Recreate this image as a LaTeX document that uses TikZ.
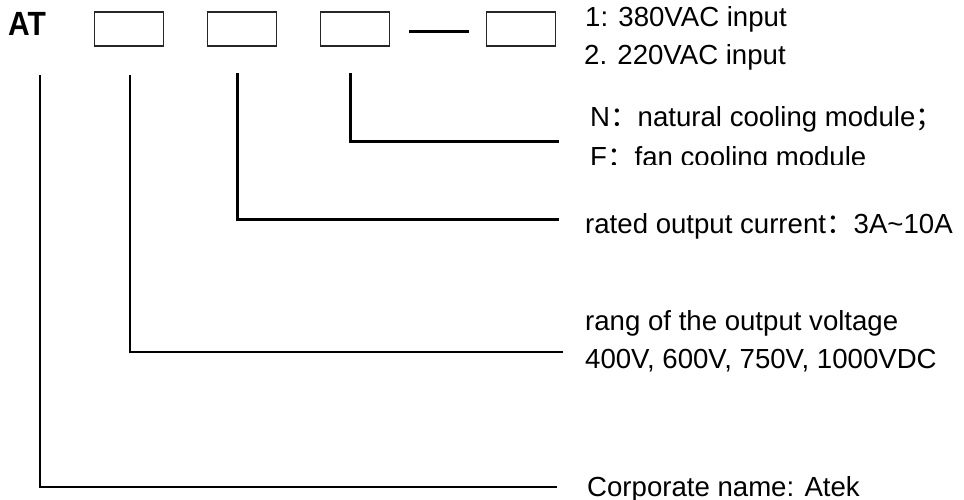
\documentclass[tikz,border=0pt]{standalone}
\usepackage{fontspec}
\setmainfont{Liberation Sans}
\newfontfamily\cjk{Noto Sans CJK SC}
\begin{document}
\begin{tikzpicture}[x=1pt,y=-1pt,
  codebox/.style={draw=black!85,line width=1.5pt,minimum width=69pt,minimum height=34pt,inner sep=0pt},
  lbl/.style={anchor=base west,inner sep=0pt,font=\fontsize{27.6}{32}\selectfont},
  thickln/.style={line width=3pt,line cap=rect}]
\useasboundingbox (0,0) rectangle (964,500);
\node[anchor=base west,inner sep=0pt,font=\fontsize{30}{34}\selectfont\bfseries] (at) at (8,36) {\scalebox{1}[1.12]{AT}};
\node[codebox] (b1) at (129,29) {};
\node[codebox] (b2) at (242,29) {};
\node[codebox] (b3) at (355,29) {};
\node[codebox] (b4) at (521,29) {};
\coordinate (d1) at (409,32);
\coordinate (d2) at (469,32);
\draw[line width=3pt] (d1) -- (d2);
% labels
\node[lbl] (t1) at (585,27) {1: 380VAC input};
\node[lbl] (t2) at (584,65) {2. 220VAC input};
\node[lbl] (tn) at (590,127) {N{\cjk ：}natural cooling module{\cjk ；}};
\begin{scope}
\clip (570,140) rectangle (964,164.5);
\node[lbl] (tf) at (590,167) {F{\cjk ：}fan cooling module};
\end{scope}
\node[lbl] (tr) at (585,233) {rated output current{\cjk ：}3A\textasciitilde10A};
\node[lbl] (tv1) at (585,330) {rang of the output voltage};
\node[lbl] (tv2) at (585,368) {400V, 600V, 750V, 1000VDC};
\node[lbl] (tc) at (587,496) {Corporate name: Atek};
% connectors
\coordinate (s3) at (350,75); \coordinate (e3) at (557,142);
\coordinate (s2) at (237,75); \coordinate (e2) at (557,219);
\coordinate (s1) at (130,75); \coordinate (e1) at (563,352);
\coordinate (s0) at (40,75);  \coordinate (e0) at (557,487);
\draw[thickln] (s3) |- (e3);
\draw[thickln] (s2) |- (e2);
\draw[line width=2.2pt] (s1) |- (e1);
\draw[line width=1.6pt] (s0) |- (e0);
\end{tikzpicture}
\end{document}
